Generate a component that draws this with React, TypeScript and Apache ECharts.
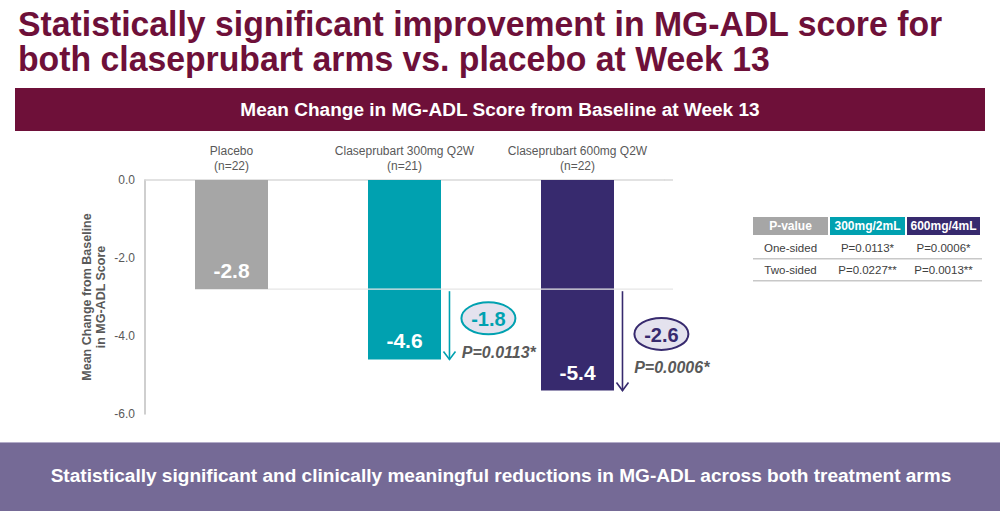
import React, { useEffect, useRef } from "react";
import * as echarts from "echarts";

const titleLines = [
  "Statistically significant improvement in MG-ADL score for",
  "both claseprubart arms vs. placebo at Week 13",
];
const bannerTitle = "Mean Change in MG-ADL Score from Baseline at Week 13";
const footerText =
  "Statistically significant and clinically meaningful reductions in MG-ADL across both treatment arms";

const categories = [
  "Placebo\n(n=22)",
  "Claseprubart 300mg Q2W\n(n=21)",
  "Claseprubart 600mg Q2W\n(n=22)",
];
const values = [-2.8, -4.6, -5.4];
const diffs = [null, -1.8, -2.6];
const pLabels = ["", "P=0.0113*", "P=0.0006*"];
const barColors = ["#A6A6A6", "#00A1B0", "#372A6E"];
const yAxisName = "Mean Change from Baseline\nin MG-ADL Score";

const tableHeader = ["P-value", "300mg/2mL", "600mg/4mL"];
const tableHeaderColors = ["#A6A6A6", "#00A1B0", "#372A6E"];
const tableRows = [
  ["One-sided", "P=0.0113*", "P=0.0006*"],
  ["Two-sided", "P=0.0227**", "P=0.0013**"],
];

const FONT = "'Liberation Sans', Arial, Helvetica, sans-serif";

function measure(text: string, font: string): number {
  const c = document.createElement("canvas");
  const ctx = c.getContext("2d");
  if (!ctx) return 1;
  ctx.font = font;
  return ctx.measureText(text).width;
}

export default function App() {
  const ref = useRef<HTMLDivElement>(null);

  useEffect(() => {
    document.body.style.margin = "0";
    if (!ref.current) return;
    const chart = echarts.init(ref.current, null, { renderer: "svg" });

    const titleFont = `bold 35px ${FONT}`;
    const titleScale = 925 / measure(titleLines[0], titleFont);
    const bannerFont = `bold 19px ${FONT}`;
    const bannerScale = 520 / measure(bannerTitle, bannerFont);
    const footFont = `bold 19px ${FONT}`;
    const footScale = 902 / measure(footerText, footFont);

    const colX = [753, 830, 907, 982];
    const headTop = 217;
    const headH = 18;
    const rowCenters = [248, 270];
    const rowLines = [258, 280];

    const graphics: any[] = [
      {
        type: "text",
        x: 18,
        y: 24,
        scaleX: titleScale,
        style: {
          text: titleLines[0],
          font: titleFont,
          fill: "#6E1039",
          textAlign: "left",
          textVerticalAlign: "middle",
        },
      },
      {
        type: "text",
        x: 18,
        y: 59,
        scaleX: titleScale,
        style: {
          text: titleLines[1],
          font: titleFont,
          fill: "#6E1039",
          textAlign: "left",
          textVerticalAlign: "middle",
        },
      },
      {
        type: "rect",
        shape: { x: 15, y: 88, width: 970, height: 43 },
        style: { fill: "#6E1039" },
      },
      {
        type: "text",
        x: 500,
        y: 110,
        scaleX: bannerScale,
        style: {
          text: bannerTitle,
          font: bannerFont,
          fill: "#FFFFFF",
          textAlign: "center",
          textVerticalAlign: "middle",
        },
      },
      {
        type: "rect",
        shape: { x: 0, y: 442, width: 1000, height: 69 },
        style: { fill: "#756A96" },
      },
      {
        type: "rect",
        shape: { x: 0, y: 442, width: 1000, height: 1 },
        style: { fill: "#B3ACC9" },
      },
      {
        type: "text",
        x: 501,
        y: 476,
        scaleX: footScale,
        style: {
          text: footerText,
          font: footFont,
          fill: "#FFFFFF",
          textAlign: "center",
          textVerticalAlign: "middle",
        },
      },
    ];

    tableHeader.forEach((h, i) => {
      graphics.push({
        type: "rect",
        shape: { x: colX[i], y: headTop, width: colX[i + 1] - colX[i] - 2, height: headH },
        style: { fill: tableHeaderColors[i] },
      });
      graphics.push({
        type: "text",
        x: (colX[i] + colX[i + 1] - 2) / 2,
        y: headTop + headH / 2,
        style: {
          text: h,
          font: `bold 12px ${FONT}`,
          fill: "#FFFFFF",
          textAlign: "center",
          textVerticalAlign: "middle",
        },
      });
    });
    tableRows.forEach((row, r) => {
      row.forEach((cell, i) => {
        graphics.push({
          type: "text",
          x: (colX[i] + colX[i + 1] - 2) / 2,
          y: rowCenters[r],
          style: {
            text: cell,
            font: `11.5px ${FONT}`,
            fill: "#404040",
            textAlign: "center",
            textVerticalAlign: "middle",
          },
        });
      });
      graphics.push({
        type: "rect",
        shape: { x: colX[0], y: rowLines[r], width: colX[3] - colX[0], height: 1.5 },
        style: { fill: "#C8C8C8" },
      });
    });

    const option: any = {
      animation: false,
      backgroundColor: "#FFFFFF",
      grid: { left: 145, right: 336, top: 180, bottom: 97, containLabel: false },
      xAxis: {
        type: "category",
        position: "top",
        data: categories,
        axisLine: { show: true, lineStyle: { color: "#D9D9D9", width: 1.5 } },
        axisTick: { show: false },
        axisLabel: {
          color: "#595959",
          fontSize: 12,
          fontFamily: FONT,
          lineHeight: 15,
          margin: 7,
          interval: 0,
        },
      },
      yAxis: {
        type: "value",
        min: -6,
        max: 0,
        interval: 2,
        name: yAxisName,
        nameLocation: "middle",
        nameGap: 37,
        nameMoveOverlap: false,
        nameRotate: 90,
        nameTextStyle: {
          color: "#595959",
          fontSize: 12.5,
          fontWeight: "bold",
          fontFamily: FONT,
          lineHeight: 14,
        },
        axisLine: { show: true, lineStyle: { color: "#BFBFBF", width: 1.5 } },
        axisTick: { show: false },
        splitLine: { show: false },
        axisLabel: {
          color: "#595959",
          fontSize: 12,
          fontFamily: FONT,
          margin: 10,
          formatter: (v: number) => v.toFixed(1),
        },
      },
      graphic: graphics,
      series: [
        {
          type: "bar",
          barWidth: 73,
          data: values.map((v, i) => ({ value: v, itemStyle: { color: barColors[i] } })),
          label: {
            show: true,
            position: "insideBottom",
            distance: 8,
            color: "#FFFFFF",
            fontSize: 21,
            fontWeight: "bold",
            fontFamily: FONT,
            formatter: (p: any) => p.value.toFixed(1),
          },
          z: 2,
        },
        {
          type: "custom",
          z: 5,
          data: values.map((v, i) => [i, v]),
          encode: { x: 0, y: 1 },
          renderItem: (params: any, api: any) => {
            const i = params.dataIndex;
            const cs = params.coordSys;
            const band = api.size([1, 0])[0];
            const barW = 73;
            const base = api.coord([i, values[0]]);
            const cx = base[0];
            const yBase = base[1];
            const yBot = api.coord([i, values[i]])[1];
            const children: any[] = [];
            if (i === 0) {
              children.push({
                type: "line",
                shape: { x1: cx + barW / 2, y1: yBase, x2: cs.x + cs.width + 9, y2: yBase },
                style: { stroke: "#E6E6E6", lineWidth: 1.2 },
              });
              children.push({
                type: "line",
                shape: { x1: cs.x + cs.width, y1: cs.y, x2: cs.x + cs.width + 9, y2: cs.y },
                style: { stroke: "#D9D9D9", lineWidth: 1.5 },
              });
            } else {
              const color = barColors[i];
              const ax = cx + band * 0.26;
              children.push({
                type: "line",
                shape: { x1: ax, y1: yBase + 2, x2: ax, y2: yBot },
                style: { stroke: color, lineWidth: 1.6 },
              });
              children.push({
                type: "polyline",
                shape: { points: [[ax - 6, yBot - 8], [ax, yBot], [ax + 6, yBot - 8]] },
                style: { stroke: color, lineWidth: 1.6, fill: null },
              });
              const mid = (yBase + yBot) / 2;
              const ex = cx + band * 0.485;
              const ey = mid - 6;
              children.push({
                type: "ellipse",
                shape: { cx: ex, cy: ey, rx: 27, ry: 16 },
                style: { fill: "#E4E2EE", stroke: color, lineWidth: 2 },
              });
              children.push({
                type: "text",
                x: ex,
                y: ey + 1,
                style: {
                  text: (diffs[i] as number).toFixed(1),
                  font: `bold 20px ${FONT}`,
                  fill: color,
                  textAlign: "center",
                  textVerticalAlign: "middle",
                },
              });
              children.push({
                type: "text",
                x: cx + band * 0.545,
                y: mid + 28,
                style: {
                  text: pLabels[i],
                  font: `italic bold 16px ${FONT}`,
                  fill: "#595959",
                  textAlign: "center",
                  textVerticalAlign: "middle",
                },
              });
            }
            return { type: "group", children };
          },
        },
      ],
    };

    chart.setOption(option);
    return () => chart.dispose();
  }, []);

  return <div ref={ref} style={{ width: 1000, height: 511 }} />;
}
